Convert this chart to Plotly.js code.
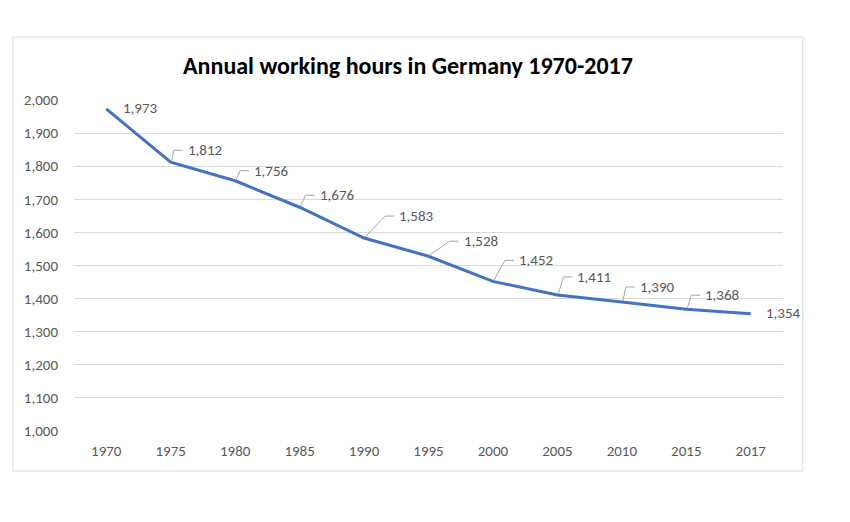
<!DOCTYPE html>
<html>
<head>
<meta charset="utf-8">
<script src="https://cdn.plot.ly/plotly-3.0.1.min.js"></script>
<style>html,body{margin:0;padding:0;background:#fff;}#chart{width:850px;height:522px;}</style>
</head>
<body>
<div id="chart"></div>
<script>
const years = ['1970','1975','1980','1985','1990','1995','2000','2005','2010','2015','2017'];
const hours = [1973, 1812, 1756, 1676, 1583, 1528, 1452, 1411, 1390, 1368, 1354];
const yTicks = [1000,1100,1200,1300,1400,1500,1600,1700,1800,1900,2000];

// label placement (pixel offsets from each point): [dx, dy(up)], and whether a leader line is drawn
const labelOffsets = [[15,1],[15,12],[17,10],[18,12],[33,22],[33,15],[24,21],[18,18],[16,15],[17,14],[13,1]];
const hasLeader = [false,true,true,true,true,true,true,true,true,true,false];

const fmt = v => v.toLocaleString('en-US');
const FONT = 'Calibri, Carlito, Lato, "Open Sans", sans-serif';

const annotations = hours.map((v,i) => ({
  x: i, y: v, xref: 'x', yref: 'y', text: fmt(v), showarrow: false,
  xanchor: 'left', yanchor: 'middle',
  xshift: labelOffsets[i][0], yshift: labelOffsets[i][1],
  font: {family: FONT, size: 15, color: '#595959'}
}));

const shapes = [];
hours.forEach((v,i) => {
  if (!hasLeader[i]) return;
  const dx = labelOffsets[i][0], dy = labelOffsets[i][1];
  const hx = Math.max(dx - 12, 2);
  shapes.push({
    type: 'path', xref: 'x', yref: 'y', xsizemode: 'pixel', ysizemode: 'pixel',
    xanchor: i, yanchor: v,
    path: `M 1,1 L ${hx},${dy} L ${dx-3},${dy}`,
    line: {color: '#a6a6a6', width: 1}
  });
});
// outer chart border
shapes.push({type:'rect', xref:'paper', yref:'paper', x0:-0.086, x1:1.028, y0:-0.121, y1:1.19,
  line:{color:'#d9d9d9', width:1}, layer:'below'});

const trace = {
  x: years.map((_,i)=>i), y: hours, type: 'scatter', mode: 'lines',
  line: {color: '#4472C4', width: 3}, hoverinfo: 'none'
};

const layout = {
  width: 850, height: 522,
  margin: {l: 74, r: 67, t: 100, b: 91},
  paper_bgcolor: '#fff', plot_bgcolor: '#fff',
  showlegend: false,
  title: {text: '<b>Annual working hours in Germany 1970-2017</b>', x: 0.48, xanchor: 'center', y: 0.875, yanchor: 'middle',
    font: {family: FONT, size: 24, color: '#000'}},
  xaxis: {type: 'linear', range: [-0.5, 10.5], tickvals: years.map((_,i)=>i), ticktext: years,
    showgrid: false, zeroline: false, showline: false, ticks: 'outside', ticklen: 6, tickcolor: 'rgba(0,0,0,0)',
    tickfont: {family: FONT, size: 15, color: '#595959'}, fixedrange: true},
  yaxis: {range: [1000, 2000], tickvals: yTicks, ticktext: yTicks.map(fmt),
    showgrid: true, gridcolor: '#d9d9d9', gridwidth: 1, zeroline: false, showline: false,
    ticks: 'outside', ticklen: 12, tickcolor: 'rgba(0,0,0,0)',
    tickfont: {family: FONT, size: 15, color: '#595959'}, fixedrange: true},
  annotations: annotations,
  shapes: shapes
};

Plotly.newPlot('chart', [trace], layout, {displayModeBar: false, staticPlot: true});
</script>
</body>
</html>
